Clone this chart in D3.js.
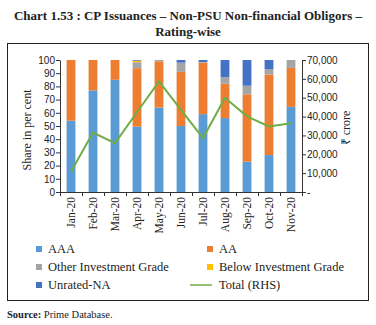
<!DOCTYPE html>
<html>
<head>
<meta charset="utf-8">
<script src="https://cdn.jsdelivr.net/npm/d3@7"></script>
<style>
  body { margin: 0; background: #fff; }
  svg { display: block; }
</style>
</head>
<body>
<div id="chart"></div>
<script>
// CP issuances by rating, monthly shares (per cent) and total (₹ crore)
var months = ["Jan-20", "Feb-20", "Mar-20", "Apr-20", "May-20", "Jun-20",
              "Jul-20", "Aug-20", "Sep-20", "Oct-20", "Nov-20"];
var aaa      = [54, 77, 85, 49.5, 64, 50, 59, 56, 23, 28, 64.5];
var aa       = [46, 23, 15, 44.3, 35, 41, 39, 26, 51, 61, 29.5];
var otherIG  = [0, 0, 0, 4.5, 1, 7, 0.5, 5, 6.5, 4, 6];
var belowIG  = [0, 0, 0, 1.2, 0, 0, 0, 0, 0, 0, 0];
var unrated  = [0, 0, 0, 0.5, 0, 2, 1.5, 13, 19.5, 7, 0];
var total    = [10800, 31500, 25900, 42300, 58600, 43500, 28600, 50000, 40100, 34800, 36500];

var leftTicks = [0, 10, 20, 30, 40, 50, 60, 70, 80, 90, 100];
var rightTicks = [0, 10000, 20000, 30000, 40000, 50000, 60000, 70000];

var seriesKeys = ["AAA", "AA", "Other Investment Grade", "Below Investment Grade", "Unrated-NA"];
var seriesVals = [aaa, aa, otherIG, belowIG, unrated];
var colors = ["#5b9bd5", "#ed7d31", "#a5a5a5", "#ffc000", "#4472c4"];
var lineColor = "#70ad47";

var W = 376, H = 325;
var svg = d3.select("#chart").append("svg").attr("width", W).attr("height", H);

// title
var title = svg.append("text")
    .attr("x", 188).attr("text-anchor", "middle")
    .style("font-family", "'Liberation Serif', serif")
    .style("font-weight", "bold").style("font-size", "13px").attr("fill", "#222");
title.append("tspan").attr("x", 188).attr("y", 20)
    .text("Chart 1.53 : CP Issuances \u2013 Non-PSU Non-financial Obligors \u2013");
title.append("tspan").attr("x", 188).attr("y", 36).text("Rating-wise");

// frame
svg.append("rect").attr("x", 7.5).attr("y", 43.5).attr("width", 361).attr("height", 257)
    .attr("fill", "none").attr("stroke", "#222").attr("stroke-width", 1);

var x = d3.scaleBand().domain(months).range([60, 302]).paddingInner(0.6).paddingOuter(0.3);
var y = d3.scaleLinear().domain([0, 100]).range([192, 60]);
var y2 = d3.scaleLinear().domain([0, 70000]).range([192, 60]);

// stacked bars
var rows = months.map(function (m, i) {
  var r = { month: m };
  seriesKeys.forEach(function (k, j) { r[k] = seriesVals[j][i]; });
  return r;
});
var stacked = d3.stack().keys(seriesKeys)(rows);

svg.append("g").selectAll("g").data(stacked).join("g")
    .attr("fill", function (d, i) { return colors[i]; })
  .selectAll("rect").data(function (d) { return d; }).join("rect")
    .attr("x", function (d) { return x(d.data.month); })
    .attr("width", x.bandwidth())
    .attr("y", function (d) { return y(d[1]); })
    .attr("height", function (d) { return y(d[0]) - y(d[1]); });

// total line on the right axis
var line = d3.line()
    .x(function (d, i) { return x(months[i]) + x.bandwidth() / 2; })
    .y(function (d) { return y2(d); });
svg.append("path").datum(total).attr("d", line)
    .attr("fill", "none").attr("stroke", lineColor).attr("stroke-width", 2);

var tickFont = "'Liberation Sans', sans-serif";

// left axis
var gl = svg.append("g").attr("transform", "translate(60,0)")
    .call(d3.axisLeft(y).tickValues(leftTicks).tickSize(4).tickSizeOuter(0));
// right axis
var gr = svg.append("g").attr("transform", "translate(302,0)")
    .call(d3.axisRight(y2).tickValues(rightTicks).tickSize(4).tickSizeOuter(0)
      .tickFormat(function (d) { return d === 0 ? "-" : d3.format(",")(d); }));
[gl, gr].forEach(function (g) {
  g.select(".domain").attr("stroke", "#333");
  g.selectAll(".tick line").attr("stroke", "#333");
  g.selectAll(".tick text").attr("fill", "#222")
    .style("font-family", tickFont).style("font-size", "10px");
});
gl.selectAll(".tick text").attr("x", -5);
gr.selectAll(".tick text").attr("x", 5);

// category axis: ticks at band boundaries, labels rotated
var gx = svg.append("g");
gx.append("line").attr("x1", 60).attr("x2", 302).attr("y1", 192.5).attr("y2", 192.5)
    .attr("stroke", "#333");
var bounds = months.map(function (m) { return x(m) - x.step() * x.paddingInner() / 2; });
bounds.push(302);
gx.selectAll("line.tk").data(bounds).join("line").attr("class", "tk")
    .attr("x1", function (d) { return Math.round(d) + 0.5; })
    .attr("x2", function (d) { return Math.round(d) + 0.5; })
    .attr("y1", 192).attr("y2", 196).attr("stroke", "#333");
gx.selectAll("text").data(months).join("text")
    .attr("transform", function (d) {
      return "translate(" + (x(d) + x.bandwidth() / 2 + 4) + ",197) rotate(-90)";
    })
    .attr("text-anchor", "end")
    .style("font-family", "'Liberation Serif', serif").style("font-size", "11.5px")
    .attr("fill", "#222").text(function (d) { return d; });

// axis titles
svg.append("text").attr("transform", "translate(31,130) rotate(-90)")
    .attr("text-anchor", "middle")
    .style("font-family", "'Liberation Serif', serif").style("font-size", "12px")
    .attr("fill", "#222").text("Share in per cent");
svg.append("text").attr("transform", "translate(350,128) rotate(-90)")
    .attr("text-anchor", "middle")
    .style("font-family", "'Liberation Serif', serif").style("font-size", "12px")
    .attr("fill", "#222").text("\u20b9 crore");

// legend
var legendItems = [
  { name: "AAA", color: colors[0], col: 0, row: 0 },
  { name: "AA", color: colors[1], col: 1, row: 0 },
  { name: "Other Investment Grade", color: colors[2], col: 0, row: 1 },
  { name: "Below Investment Grade", color: colors[3], col: 1, row: 1 },
  { name: "Unrated-NA", color: colors[4], col: 0, row: 2 },
  { name: "Total (RHS)", color: lineColor, col: 1, row: 2, line: true }
];
var lg = svg.append("g").selectAll("g").data(legendItems).join("g")
    .attr("transform", function (d) {
      return "translate(" + (d.col ? 219 : 48) + "," + (249 + d.row * 18) + ")";
    });
lg.filter(function (d) { return !d.line; }).append("rect")
    .attr("x", -12).attr("y", -3).attr("width", 6).attr("height", 6)
    .attr("fill", function (d) { return d.color; });
lg.filter(function (d) { return d.line; }).append("line")
    .attr("x1", -29).attr("x2", -7).attr("y1", 0).attr("y2", 0)
    .attr("stroke", function (d) { return d.color; }).attr("stroke-width", 1.5);
lg.append("text").attr("x", 0).attr("y", 4)
    .style("font-family", "'Liberation Serif', serif").style("font-size", "12.5px")
    .attr("fill", "#222").text(function (d) { return d.name; });

// source note
var src = svg.append("text").attr("x", 7).attr("y", 318)
    .style("font-family", "'Liberation Serif', serif").style("font-size", "10.5px")
    .attr("fill", "#222");
src.append("tspan").style("font-weight", "bold").text("Source: ");
src.append("tspan").text("Prime Database.");
</script>
</body>
</html>
